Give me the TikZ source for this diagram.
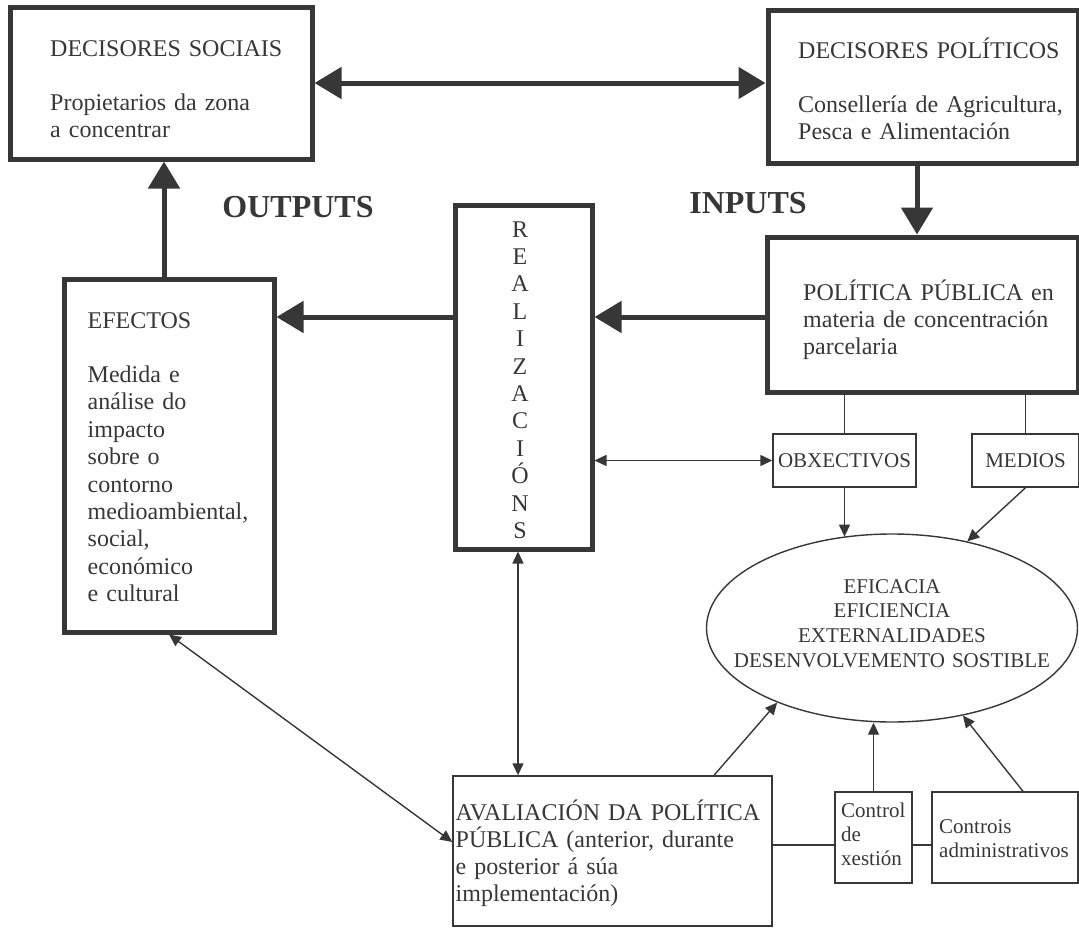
\documentclass[tikz,border=0pt]{standalone}
\usepackage{fontspec}
\setmainfont{Liberation Serif}
\usetikzlibrary{arrows.meta,shapes.geometric}
\definecolor{ink}{RGB}{55,55,55}
\begin{document}
\begin{tikzpicture}[x=1pt,y=-1pt,
  thickbox/.style={draw=ink,line width=5pt,inner sep=0pt},
  thinbox/.style={draw=ink,line width=1.4pt,inner sep=0pt},
  bigarr/.style={draw=ink,line width=5pt,-{Triangle[length=27pt,width=31pt]}},
  bigdbl/.style={draw=ink,line width=5pt,{Triangle[length=27pt,width=31pt]}-{Triangle[length=27pt,width=31pt]}},
  smallarr/.style={draw=ink,line width=1.4pt,-{Triangle[length=12pt,width=11pt]}},
  smalldbl/.style={draw=ink,line width=1.4pt,{Triangle[length=12pt,width=11pt]}-{Triangle[length=12pt,width=11pt]}},
  link/.style={draw=ink,line width=1.4pt},
  bodytxt/.style={text=ink,inner sep=0pt,anchor=base west,align=left,font=\fontsize{24}{27.4}\selectfont},
  smalltxt/.style={text=ink,inner sep=0pt,anchor=base west,align=left,font=\fontsize{21}{24}\selectfont},
  headtxt/.style={text=ink,inner sep=0pt,anchor=base,font=\fontsize{32}{36}\selectfont\bfseries},
]
\useasboundingbox (0,0) rectangle (1079,929);

% boxes
\node[thickbox,minimum width=302pt,minimum height=152pt] (ds) at (161,83) {};
\node[thickbox,minimum width=310pt,minimum height=153pt] (dp) at (923,86.5) {};
\node[thickbox,minimum width=311pt,minimum height=155pt] (pol) at (922.5,314.5) {};
\node[thickbox,minimum width=210pt,minimum height=353pt] (efx) at (169,455.5) {};
\node[thickbox,minimum width=137pt,minimum height=344pt] (rz) at (523.5,377) {};
\node[thinbox,minimum width=143pt,minimum height=53pt,text=ink,font=\fontsize{21}{24}\selectfont] (obx) at (844.5,460.5) {OBXECTIVOS};
\node[thinbox,minimum width=107pt,minimum height=53pt,text=ink,font=\fontsize{21}{24}\selectfont] (med) at (1025.5,460.5) {MEDIOS};
\node[draw=ink,line width=1.4pt,ellipse,minimum width=371pt,minimum height=188pt,inner sep=0pt] (ell) at (892,628) {};
\node[thinbox,minimum width=319pt,minimum height=150pt] (aval) at (612.5,851) {};
\node[thinbox,minimum width=77pt,minimum height=91pt] (ctl) at (873.5,837.5) {};
\node[thinbox,minimum width=146pt,minimum height=91pt] (cts) at (1005,837.5) {};

% texts
\node[bodytxt,text width=260pt] (dstxt) at (50,56) {DECISORES SOCIAIS\\[27pt]Propietarios da zona\\a concentrar};
\node[bodytxt,text width=275pt] (dptxt) at (798,58) {DECISORES POLÍTICOS\\[27pt]Consellería de Agricultura,\\Pesca e Alimentación};
\node[bodytxt,text width=270pt] (poltxt) at (803,300) {POLÍTICA PÚBLICA en\\materia de concentración\\parcelaria};
\node[bodytxt,text width=185pt] (efxtxt) at (87.5,328) {EFECTOS\\[27pt]Medida e\\análise do\\impacto\\sobre o\\contorno\\medioambiental,\\social,\\económico\\e cultural};
\node[bodytxt,anchor=base,align=center,text width=30pt] (rztxt) at (520,237) {R\\E\\A\\L\\I\\Z\\A\\C\\I\\Ó\\N\\S};
\node[smalltxt,anchor=base,align=center,text width=360pt,font=\fontsize{21}{24.7}\selectfont] (elltxt) at (892,593) {EFICACIA\\EFICIENCIA\\EXTERNALIDADES\\DESENVOLVEMENTO SOSTIBLE};
\node[bodytxt,text width=315pt,font=\fontsize{24}{27}\selectfont] (avaltxt) at (455.5,820) {AVALIACIÓN DA POLÍTICA\\PÚBLICA (anterior, durante\\e posterior á súa\\implementación)};
\node[smalltxt,text width=70pt] (ctltxt) at (841,817) {Control\\de\\xestión};
\node[smalltxt,text width=140pt] (ctstxt) at (939,833) {Controis\\administrativos};
\node[headtxt] (outl) at (298,217) {OUTPUTS};
\node[headtxt] (inl) at (748,213) {INPUTS};

% connectors
\draw[bigdbl] (ds.east) -- (ds.east -| dp.west);
\coordinate (up1) at ([xshift=-5pt]efx.north);
\draw[bigarr] (up1) -- (up1 |- ds.south);
\coordinate (dn1) at ([xshift=-6pt]dp.south);
\draw[bigarr] (dn1) -- (dn1 |- pol.north);
\coordinate (r1) at ([yshift=60pt]rz.west);
\draw[bigarr] (r1) -- (r1 -| efx.east);
\coordinate (p1) at (pol.west |- r1);
\draw[bigarr] (p1) -- (p1 -| rz.east);
\draw[link] (obx.north |- pol.south) -- (obx.north);
\draw[link] (med.north |- pol.south) -- (med.north);
\draw[smalldbl] (obx.west -| rz.east) -- (obx.west);
\draw[smallarr] (obx.south) -- (obx.south |- ell.118);
\draw[smallarr] (med.south) -- (ell.49);
\coordinate (v1) at ([xshift=-5.5pt]rz.south);
\draw[smalldbl] (v1) -- (v1 |- aval.north);
\coordinate (e1) at ([yshift=9pt]aval.west);
\draw[smalldbl] (efx.south) -- (e1);
\coordinate (a1) at ([xshift=101.5pt]aval.north);
\draw[smallarr] (a1) -- (ell.213);
\draw[smallarr] (ctl.north) -- (ctl.north |- ell.south);
\coordinate (c1) at ([xshift=18pt]cts.north);
\draw[smallarr] (c1) -- (ell.-51);
\coordinate (h1) at ([yshift=6pt]aval.east);
\draw[link] (h1) -- (h1 -| ctl.west);
\draw[link] (h1 -| ctl.east) -- (h1 -| cts.west);
\end{tikzpicture}
\end{document}
